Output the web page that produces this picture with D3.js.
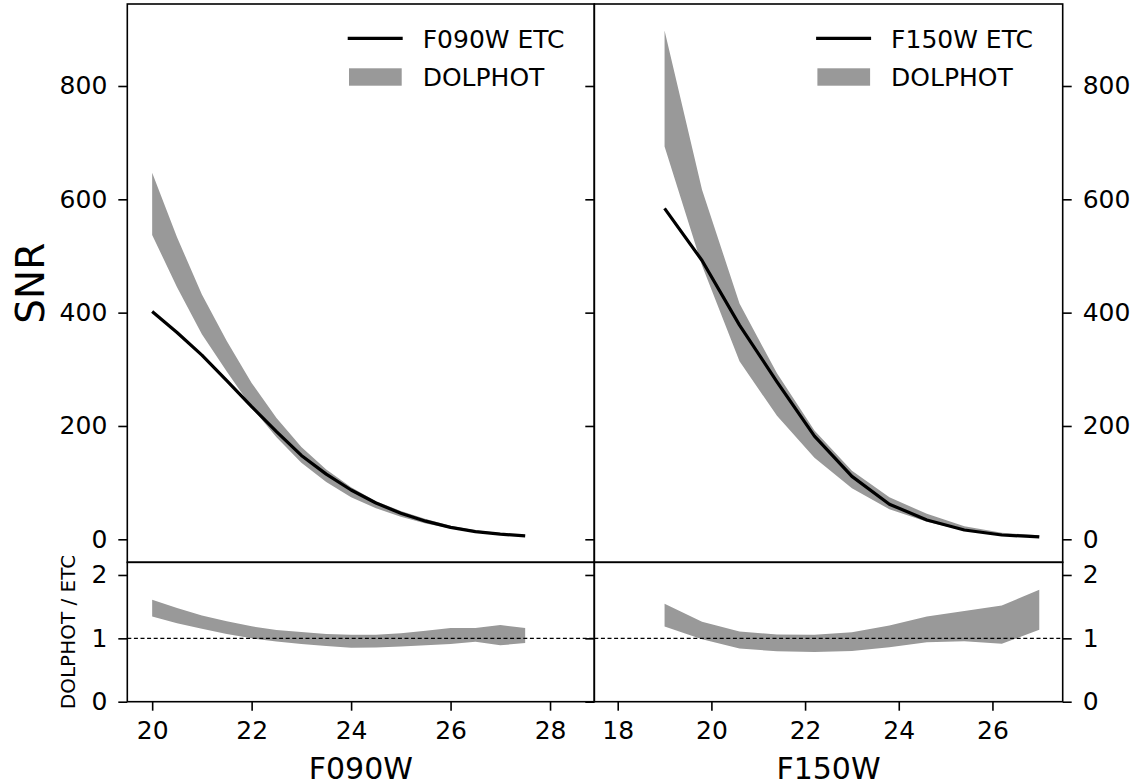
<!DOCTYPE html>
<html>
<head>
<meta charset="utf-8">
<script src="https://cdn.jsdelivr.net/npm/d3@7"></script>
<style>
  html, body { margin: 0; padding: 0; background: #fff; }
  svg { display: block; font-family: "DejaVu Sans", sans-serif; }
</style>
</head>
<body>
<svg id="chart" width="1136" height="784"></svg>
<script>
// ---------------- data ----------------
// F090W panel (left)
const magF090W = [20, 20.5, 21, 21.5, 22, 22.5, 23, 23.5, 24, 24.5, 25, 25.5, 26, 26.5, 27, 27.5];
const etcF090W = [402, 365, 325, 280, 234, 190, 148, 115, 87, 64, 46, 32, 21, 13.5, 9, 6];
const dolHiF090W = [647, 533, 432, 350, 276, 214, 163, 123, 92, 67, 50, 36, 24, 16, 11, 7];
const dolLoF090W = [537, 445, 362, 296, 233, 180, 135, 101, 74, 55, 40, 28, 19, 13, 8, 5.5];
const ratioHiF090W = [1.61, 1.48, 1.36, 1.27, 1.19, 1.13, 1.10, 1.07, 1.055, 1.055, 1.08, 1.12, 1.165, 1.165, 1.21, 1.165];
const ratioLoF090W = [1.345, 1.24, 1.15, 1.07, 1.00, 0.95, 0.91, 0.88, 0.85, 0.855, 0.87, 0.89, 0.91, 0.945, 0.89, 0.925];

// F150W panel (right)
const magF150W = [19, 19.8, 20.6, 21.4, 22.2, 23.0, 23.8, 24.6, 25.4, 26.2, 27.0];
const etcF150W = [584, 492, 378, 278, 182, 111, 62, 34, 16.4, 7.6, 4.2];
const dolHiF150W = [898, 617, 416, 293, 192, 121, 74, 45, 23, 11.5, 7];
const dolLoF150W = [693, 483, 314, 218, 144, 90, 53, 31, 15, 6.8, 4.5];
const ratioHiF150W = [1.546, 1.261, 1.108, 1.06, 1.055, 1.098, 1.203, 1.345, 1.43, 1.519, 1.767];
const ratioLoF150W = [1.187, 0.987, 0.839, 0.797, 0.786, 0.802, 0.861, 0.94, 0.955, 0.913, 1.134];

// ticks / labels
const xTicksF090W = [20, 22, 24, 26, 28];
const xTicksF150W = [18, 20, 22, 24, 26];
const snrTicks = [0, 200, 400, 600, 800];
const ratioTicks = [0, 1, 2];
const xDomainF090W = [19.5, 28.89];
const xDomainF150W = [17.5, 27.5];
const snrDomain = [-40.6, 944.7];
const ratioDomain = [0, 2.2];

// ---------------- layout ----------------
const svg = d3.select("#chart");
const L = { x0: 127.3, x1: 594.3 };
const R = { x0: 594.3, x1: 1062.7 };
const TOP = { y0: 4, y1: 562.3 };
const BOT = { y0: 562.3, y1: 701.7 };
const GRAY = "#999999";
const FS = 25;
const TICK = 9, PAD = 11;

const ySNR = d3.scaleLinear().domain(snrDomain).range([TOP.y1, TOP.y0]);
const yRatio = d3.scaleLinear().domain(ratioDomain).range([BOT.y1, BOT.y0]);

function panel(cfg) {
  const x = d3.scaleLinear().domain(cfg.xDomain).range([cfg.box.x0, cfg.box.x1]);
  const topData = cfg.mag.map((m, i) => ({ m, etc: cfg.etc[i], hi: cfg.hi[i], lo: cfg.lo[i], rhi: cfg.rhi[i], rlo: cfg.rlo[i] }));

  const clipId = "clip" + cfg.name;
  const defs = svg.append("defs");
  defs.append("clipPath").attr("id", clipId + "t").append("rect")
    .attr("x", cfg.box.x0).attr("y", TOP.y0).attr("width", cfg.box.x1 - cfg.box.x0).attr("height", TOP.y1 - TOP.y0);
  defs.append("clipPath").attr("id", clipId + "b").append("rect")
    .attr("x", cfg.box.x0).attr("y", BOT.y0).attr("width", cfg.box.x1 - cfg.box.x0).attr("height", BOT.y1 - BOT.y0);

  // top band
  const gt = svg.append("g").attr("clip-path", `url(#${clipId}t)`);
  gt.append("path").datum(topData)
    .attr("d", d3.area().x(d => x(d.m)).y0(d => ySNR(d.lo)).y1(d => ySNR(d.hi)))
    .attr("fill", GRAY).attr("stroke", "none");
  gt.append("path").datum(topData)
    .attr("d", d3.line().x(d => x(d.m)).y(d => ySNR(d.etc)))
    .attr("fill", "none").attr("stroke", "#000").attr("stroke-width", 3.2).attr("stroke-linejoin", "round");

  // bottom band
  const gb = svg.append("g").attr("clip-path", `url(#${clipId}b)`);
  gb.append("path").datum(topData)
    .attr("d", d3.area().x(d => x(d.m)).y0(d => yRatio(d.rlo)).y1(d => yRatio(d.rhi)))
    .attr("fill", GRAY).attr("stroke", "none");
  gb.append("line")
    .attr("x1", cfg.box.x0).attr("x2", cfg.box.x1)
    .attr("y1", yRatio(1)).attr("y2", yRatio(1))
    .attr("stroke", "#000").attr("stroke-width", 1.1).attr("stroke-dasharray", "4,2.6");

  // spines
  [TOP, BOT].forEach(b => {
    svg.append("rect").attr("x", cfg.box.x0).attr("y", b.y0)
      .attr("width", cfg.box.x1 - cfg.box.x0).attr("height", b.y1 - b.y0)
      .attr("fill", "none").attr("stroke", "#000").attr("stroke-width", 1.6);
  });

  // x axis (bottom)
  const xa = svg.append("g").attr("transform", `translate(0,${BOT.y1})`)
    .call(d3.axisBottom(x).tickValues(cfg.xTicks).tickFormat(d3.format("d"))
      .tickSizeInner(TICK).tickSizeOuter(0).tickPadding(PAD));
  styleAxis(xa);

  // y axes
  const labelSide = cfg.labelSide;
  const xLab = labelSide === "left" ? cfg.box.x0 : cfg.box.x1;
  const xNo = labelSide === "left" ? cfg.box.x1 : cfg.box.x0;
  const axLab = labelSide === "left" ? d3.axisLeft : d3.axisRight;

  [[ySNR, snrTicks], [yRatio, ratioTicks]].forEach(([ys, tv]) => {
    const g = svg.append("g").attr("transform", `translate(${xLab},0)`)
      .call(axLab(ys).tickValues(tv).tickFormat(d3.format("d"))
        .tickSizeInner(TICK).tickSizeOuter(0).tickPadding(PAD));
    styleAxis(g);
    // unlabeled ticks on the shared middle spine (pointing left)
    if (labelSide === "right") {
      const g2 = svg.append("g").attr("transform", `translate(${xNo},0)`)
        .call(d3.axisLeft(ys).tickValues(tv).tickFormat("")
          .tickSizeInner(TICK).tickSizeOuter(0));
      styleAxis(g2);
    }
  });

  // x label
  svg.append("text").attr("x", (cfg.box.x0 + cfg.box.x1) / 2).attr("y", 779)
    .attr("text-anchor", "middle").attr("font-size", 30).text(cfg.name);

  // legend
  const lx = cfg.box.x1 - 246.6;
  svg.append("line").attr("x1", lx).attr("x2", lx + 55).attr("y1", 38.3).attr("y2", 38.3)
    .attr("stroke", "#000").attr("stroke-width", 3.2);
  svg.append("text").attr("x", lx + 75).attr("y", 47.5).attr("font-size", FS).text(cfg.name + " ETC");
  svg.append("rect").attr("x", lx + 1.3).attr("y", 68.3).attr("width", 52.7).attr("height", 17.4)
    .attr("fill", GRAY);
  svg.append("text").attr("x", lx + 75).attr("y", 85.5).attr("font-size", FS).text("DOLPHOT");
}

function styleAxis(g) {
  g.select(".domain").remove();
  g.selectAll(".tick line").attr("stroke", "#000").attr("stroke-width", 1.6);
  g.selectAll(".tick text").attr("fill", "#000").attr("font-size", FS)
    .attr("font-family", "DejaVu Sans, sans-serif");
}

panel({ name: "F090W", box: L, xDomain: xDomainF090W, xTicks: xTicksF090W,
  mag: magF090W, etc: etcF090W, hi: dolHiF090W, lo: dolLoF090W, rhi: ratioHiF090W, rlo: ratioLoF090W, labelSide: "left" });
panel({ name: "F150W", box: R, xDomain: xDomainF150W, xTicks: xTicksF150W,
  mag: magF150W, etc: etcF150W, hi: dolHiF150W, lo: dolLoF150W, rhi: ratioHiF150W, rlo: ratioLoF150W, labelSide: "right" });

// y labels
svg.append("text").attr("transform", `translate(44,${(TOP.y0 + TOP.y1) / 2}) rotate(-90)`)
  .attr("text-anchor", "middle").attr("font-size", 39).text("SNR");
svg.append("text").attr("transform", `translate(75,${(BOT.y0 + BOT.y1) / 2}) rotate(-90)`)
  .attr("text-anchor", "middle").attr("font-size", 20).text("DOLPHOT / ETC");
</script>
</body>
</html>
